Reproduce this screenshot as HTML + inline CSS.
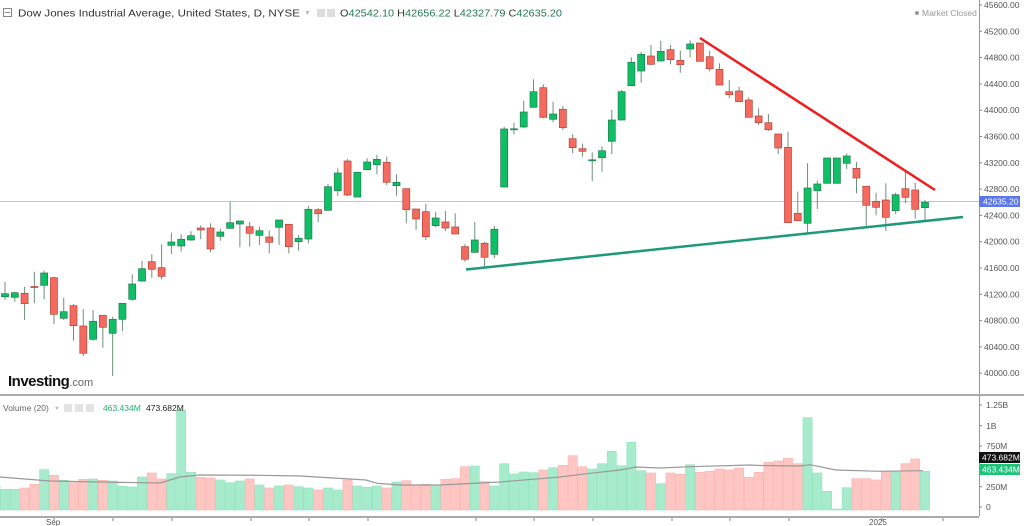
<!DOCTYPE html>
<html><head><meta charset="utf-8"><style>
html,body{margin:0;padding:0;background:#fff;width:1024px;height:526px;overflow:hidden}
svg{display:block;font-family:"Liberation Sans",sans-serif}
</style></head><body>
<svg id="s" width="1024" height="526" xmlns="http://www.w3.org/2000/svg">
<rect width="1024" height="526" fill="#fff"/>
<line x1="0" y1="201.5" x2="979" y2="201.5" stroke="#b8c4f5" stroke-width="1"/>
<g id="vol"></g><g id="cand"></g>
<polyline id="ma" fill="none" stroke="#999" stroke-width="1.2" points=""/>
<line x1="700" y1="38" x2="935" y2="190" stroke="#f21c1c" stroke-width="2.5"/>
<line x1="466" y1="269.5" x2="963" y2="217" stroke="#1e9a78" stroke-width="2.5"/>
<line x1="979.5" y1="0" x2="979.5" y2="516" stroke="#999" stroke-width="1"/>
<line x1="0" y1="395" x2="1024" y2="395" stroke="#aaa" stroke-width="2"/>
<line x1="0" y1="517" x2="979" y2="517" stroke="#aaa" stroke-width="2"/>
<g id="ticks" stroke="#888" stroke-width="1"></g>
<g font-size="10.5">
<rect x="3.5" y="8.5" width="8" height="8" fill="none" stroke="#888"/><line x1="5" y1="12.5" x2="10" y2="12.5" stroke="#888"/>
<text x="18" y="16.5" fill="#333" textLength="282" lengthAdjust="spacingAndGlyphs">Dow Jones Industrial Average, United States, D, NYSE</text>
<text x="304" y="15" fill="#bbb" font-size="7">▼</text>
<rect x="317" y="9" width="8" height="8" fill="#ddd"/><rect x="327" y="9" width="8" height="8" fill="#ddd"/>
<text x="340" y="16.5" fill="#333" font-size="10.5" textLength="222" lengthAdjust="spacingAndGlyphs">O<tspan fill="#217a4f">42542.10</tspan>  H<tspan fill="#217a4f">42656.22</tspan>  L<tspan fill="#217a4f">42327.79</tspan>  C<tspan fill="#217a4f">42635.20</tspan></text>
</g>
<circle cx="917" cy="13" r="2" fill="#999"/>
<text x="922" y="16" font-size="8.5" fill="#999">Market Closed</text>
<text x="8" y="386" font-size="15" font-weight="bold" fill="#111" letter-spacing="-0.5">Investing<tspan font-weight="normal" font-size="11" fill="#666" letter-spacing="0">.com</tspan></text>
<g font-size="8.5">
<text x="3" y="411" fill="#666">Volume (20)</text>
<text x="54" y="410" fill="#bbb" font-size="6">▼</text>
<rect x="64" y="404" width="8" height="8" fill="#e3e3e3"/><rect x="75" y="404" width="8" height="8" fill="#e3e3e3"/><rect x="86" y="404" width="8" height="8" fill="#e3e3e3"/>
<text x="103" y="411" fill="#22b26f">463.434M</text>
<text x="146" y="411" fill="#222">473.682M</text>
</g>
<text x="46" y="525" font-size="8" fill="#555">Sep</text>
<text x="869" y="525" font-size="8" fill="#555">2025</text>
<rect x="979" y="196" width="41" height="11" fill="#5b77e8"/>
<text x="983" y="204.5" font-size="8.5" fill="#fff">42635.20</text>
<rect x="979" y="452" width="41" height="11" fill="#111"/>
<text x="982" y="460.5" font-size="8.5" fill="#fff">473.682M</text>
<rect x="979" y="464" width="41" height="11" fill="#1fc47a"/>
<text x="982" y="472.5" font-size="8.5" fill="#fff">463.434M</text>
<g font-size="8.5" fill="#555">
<text x="986" y="408">1.25B</text><text x="986" y="429">1B</text><text x="986" y="449">750M</text><text x="986" y="490">250M</text><text x="986" y="510">0</text>
</g>
<g font-size="8.5" fill="#555">
<text x="984" y="8">45600.00</text><text x="984" y="34.3">45200.00</text><text x="984" y="60.6">44800.00</text><text x="984" y="86.9">44400.00</text><text x="984" y="113.2">44000.00</text><text x="984" y="139.5">43600.00</text><text x="984" y="165.8">43200.00</text><text x="984" y="192.1">42800.00</text><text x="984" y="218.4">42400.00</text><text x="984" y="244.7">42000.00</text><text x="984" y="271">41600.00</text><text x="984" y="297.3">41200.00</text><text x="984" y="323.6">40800.00</text><text x="984" y="349.9">40400.00</text><text x="984" y="376.2">40000.00</text>
</g>
</svg>
<script>
var C=[[293.7,296.7,281.7,300,1],[292.7,297.3,291.7,301.7,1],[293.3,303.7,286.7,320,0],[286.5,287.5,271.7,303.3,0],[273,285.3,270.7,299.3,1],[277.7,314.3,276.7,324,0],[311.7,318.3,298,320,1],[305.7,325.7,304,340.7,0],[326,353.3,309,356,0],[321.3,339.3,310,340.7,1],[315.3,327.3,315,347.7,0],[319.3,333.3,316.7,376,1],[303.3,319.3,303,331,1],[284,299.3,274.3,300.7,1],[268.7,281,261,281.7,1],[261.7,269.3,254.3,277.7,0],[267.7,276.3,244.3,279.3,0],[242,245.3,232.7,254,1],[239.3,246,234.3,251.7,1],[235.7,240,231.3,240.7,1],[228,230,225.3,239.3,0],[228,249,223.3,252.3,0],[232,236.3,228.7,240.7,1],[222.7,228.3,201.7,228.3,1],[221,224,220.7,247.3,1],[226.7,233.3,222,246.7,0],[230.7,235.3,226.7,245,1],[237,242.3,230.7,253.3,0],[220,227.3,220,245,1],[224.3,246.7,224.3,253.3,0],[238.3,241.7,235,250.7,1],[209.3,239,205.7,243.3,1],[209.7,213.7,208.3,222.3,0],[186.7,210.3,184,210.7,1],[173,190.7,168.3,196,1],[161,195,159,196,0],[172.3,197,171.7,197.3,1],[162,169.7,158.3,170,1],[159.3,164.7,155,174.3,1],[162.3,182.3,156.7,185,0],[182.3,185.7,174.3,195.7,1],[188.7,209.7,188.7,223.3,0],[209,219,209,230,0],[211.7,236.7,204,240,0],[218,225.7,211.7,227.3,1],[222,228,211,231,0],[227,234,213.3,234,0],[246.7,259.3,244.3,261.7,0],[240,252.3,222,252.7,1],[243.3,257.3,241.7,266.7,0],[229.3,254.3,226,258.3,1],[129,187,126.7,187.3,1],[128.8,129.8,122.7,134.3,1],[112,127,100.7,128.3,1],[91.7,107.3,79.3,107.3,1],[87.7,117.3,84.3,118.3,0],[114,119.3,101.7,122.3,1],[109.3,127.7,106,130,0],[138.7,147.7,134.3,153.3,0],[148.7,151.3,143.7,156.7,0],[159.8,160.8,152.3,181,1],[150.7,157.7,146.3,171.7,1],[120,141.3,110,154,1],[91.7,120,90,120,1],[62.3,85.7,57.3,85.7,1],[54.3,71,52,82.7,1],[56,64.3,44.7,65.3,0],[51.3,61,40.7,61,1],[49.7,59.7,45,64.3,0],[60.3,64.7,50.7,72.7,0],[44,49,40.3,57.3,1],[43,61.3,43,61.3,0],[56.7,68.7,50.7,71.3,0],[69.3,85,63.3,85,0],[91.7,94.7,80,98.3,0],[91,101.7,86.7,101.7,0],[100,117.3,97.3,117.3,0],[116,122.7,108.3,125,0],[122.7,129.7,114,131,0],[134,148,134,154,0],[147.3,222.7,131.7,222.7,0],[213.3,220.7,191.7,220.7,0],[188,223.3,163.3,233.3,1],[184,190.7,180.7,209,1],[158,183.3,158,183.3,1],[158,183.3,158,183.3,1],[156,163.3,153.3,169,1],[168.3,178,162,193.3,0],[186.3,205.3,186.3,226,0],[201.3,207.3,192.7,215.3,0],[200,217.3,183.3,231,0],[194.7,210.7,192.7,214,1],[188.7,197.3,170,203.3,0],[190,209.3,182.7,218.7,0],[202.3,207.7,200,221.3,1]];
var V=[489.3,489.3,488,484.3,469.7,475.3,480.3,482.7,479.3,479,480.3,481,486.3,487,477,473,479,473.7,410,472.3,477.3,478,480,482.7,481,479,485,488,486,485,486.7,488,490,488,490,480,486,487.3,486,488,482,480.7,486,484.3,486,479.3,478.7,466.7,466,481.7,486,463.7,474,472,472.7,470,467.7,465.3,455.7,466.7,469,463.7,451.3,465.7,442.3,470.7,473,483.7,473,474.3,464.7,472.3,471.3,469,470,468,477.3,472.3,462.3,461,458.3,463.7,417.7,473,491.3,509,487.7,478.7,478.7,480,472,472,463.7,459,471.3];
var ns="http://www.w3.org/2000/svg";
function el(p,t,a){var e=document.createElementNS(ns,t);for(var k in a)e.setAttribute(k,a[k]);p.appendChild(e);return e;}
var cg=document.getElementById("cand"),vg=document.getElementById("vol");
var dx=(925-5)/94;
el(vg,"rect",{x:0,y:485,width:0.5,height:25,fill:"#a6ebcb"});
for(var i=0;i<C.length;i++){var x=5+i*dx,c=C[i],g=c[4];
 el(vg,"rect",{x:x-dx/2+0.3,y:V[i],width:dx-0.6,height:510-V[i],fill:g?"#a6ebcb":"#fdc6c3",stroke:g?"#95e3bd":"#f9b5b1","stroke-width":0.6});
 el(cg,"line",{x1:x,x2:x,y1:c[2],y2:c[3],stroke:"#6f8f7e","stroke-width":1});
 var h=Math.max(c[1]-c[0],1);
 el(cg,"rect",{x:x-3.5,y:c[0],width:7,height:h,fill:g?"#0fbf66":"#f56a5f",stroke:g?"#237a4e":"#b3443c","stroke-width":0.7});
}
document.getElementById("ma").setAttribute("points","0,477 50,481 100,482 160,483 180,477 200,475 260,475.3 300,476 366,480 377,483.3 400,485 440,485 500,482 560,477 590,473.3 620,470 636,467 660,468 690,466.7 750,465 760,465.5 800,466 810,464.7 836,470 880,471.3 923,470.7");
var tg=document.getElementById("ticks");
[54,113,172,251,309,368,476,534,593,672,730,789,882,943].forEach(function(x){el(tg,"line",{x1:x,x2:x,y1:518,y2:521});});
for(var k=0;k<15;k++){var y=5+k*26.3;el(tg,"line",{x1:979,x2:982,y1:y,y2:y});}
[405,425.7,446,466,486.7,507].forEach(function(y){el(tg,"line",{x1:979,x2:982,y1:y,y2:y});});
</script>
</body></html>
